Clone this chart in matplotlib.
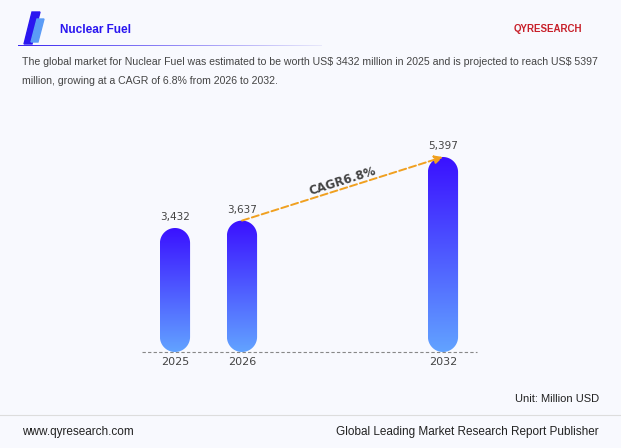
import numpy as np
import matplotlib
matplotlib.use("Agg")
import matplotlib.pyplot as plt
from matplotlib.patches import Polygon
from matplotlib.colors import LinearSegmentedColormap

years = ["2025", "2026", "2032"]
slots = [0, 1, 4]
values = [3432, 3637, 5397]
labels = ["3,432", "3,637", "5,397"]
cagr = "CAGR6.8%"

W, H = 621, 448
bg = "#f8f9fe"
fig = plt.figure(figsize=(W/100, H/100), dpi=100, facecolor=bg)

def fx(px): return px / W
def fy(py): return 1 - py / H

# header
fig.add_artist(Polygon([[fx(24), fy(44)], [fx(32), fy(44)], [fx(40), fy(12)], [fx(32), fy(12)]],
                       closed=True, transform=fig.transFigure, color="#2a16f0"))
fig.add_artist(Polygon([[fx(31), fy(42)], [fx(38), fy(42)], [fx(44), fy(19)], [fx(37), fy(19)]],
                       closed=True, transform=fig.transFigure, color="#5b9cf6"))
fig.text(fx(60), fy(30), "Nuclear Fuel", color="#2a16f0", fontsize=8.5, fontweight="bold",
         va="center", family="Liberation Sans")
grad = np.linspace(0, 1, 256).reshape(1, -1)
lax = fig.add_axes([fx(18), fy(46), fx(322) - fx(18), 1.2/H])
lax.imshow(grad, aspect="auto", cmap=LinearSegmentedColormap.from_list("l", ["#3a26f0", "#e8e8fb"]))
lax.axis("off")
fig.text(fx(22), fy(62), "The global market for Nuclear Fuel was estimated to be worth US\\$ 3432 million in 2025 and is projected to reach US\\$ 5397",
         fontsize=7.6, color="#444444", va="center", family="Liberation Sans")
fig.text(fx(22), fy(81), "million, growing at a CAGR of 6.8% from 2026 to 2032.",
         fontsize=7.6, color="#444444", va="center", family="Liberation Sans")
fig.text(fx(548), fy(29), "QYRESEARCH", color="#c8202a", fontsize=7, fontweight="bold",
         va="center", ha="center", family="Liberation Sans")

# chart
x0, x1 = 141.5, 476.5
ybase, ytop = 352, 100
ymax = 5397 * (ybase - ytop) / 195.0
ax = fig.add_axes([fx(x0), fy(ybase), fx(x1) - fx(x0), (ybase - ytop) / H])
ax.set_facecolor("none")
ax.axis("off")

cmap = LinearSegmentedColormap.from_list("b", ["#62a3ff", "#3a10ff"])
bw = 0.45
xu_per_px = 5 / (x1 - x0)
yu_per_px = ymax / (ybase - ytop)
rx = bw / 2
ry = rx / xu_per_px * yu_per_px
t = np.linspace(0, np.pi, 40)
for s, v, lab, yr in zip(slots, values, labels, years):
    top = np.column_stack([s + rx*np.cos(t), v - ry + ry*np.sin(t)])
    bot = np.column_stack([s - rx*np.cos(t), ry - ry*np.sin(t)])
    patch = Polygon(np.vstack([top, bot]), closed=True, transform=ax.transData, lw=0, fc="none")
    ax.add_patch(patch)
    im = ax.imshow(np.linspace(0, 1, 256).reshape(-1, 1), cmap=cmap, origin="lower", aspect="auto",
                   extent=[s - rx, s + rx, 0, v], zorder=2)
    im.set_clip_path(patch)
    ax.text(s, v + 6 * yu_per_px, lab, ha="center", va="bottom", fontsize=7.5, color="#444444")
    ax.text(s, -5 * yu_per_px, yr, ha="center", va="top", fontsize=8, color="#444444")
ax.set_xlim(-0.5, 4.5)
ax.set_ylim(0, ymax)
ax.axhline(0, color="#888888", lw=0.8, ls=(0, (3, 2)), clip_on=False, zorder=3)

ax.annotate("", xy=(slots[2], values[2]), xytext=(slots[1], values[1]),
            arrowprops=dict(arrowstyle="-|>", color="#f0a020", lw=1.4, ls="--", mutation_scale=12,
                            shrinkA=0, shrinkB=0), zorder=4)
ang = np.degrees(np.arctan2((values[2]-values[1]) / yu_per_px, 3 / xu_per_px))
ax.text(2.5, 4720, cagr, rotation=ang, ha="center", va="center", fontsize=8.5,
        fontweight="bold", color="#444444")

# footer
fig.text(fx(599), fy(399), "Unit: Million USD", ha="right", va="center", fontsize=8, color="#222222",
         family="Liberation Sans")
fig.add_artist(plt.Line2D([0, 1], [fy(415), fy(415)], transform=fig.transFigure, color="#dddddd", lw=0.8))
fig.text(fx(22), fy(432), "www.qyresearch.com", va="center", fontsize=8.5, color="#222222", family="Liberation Sans")
fig.text(fx(599), fy(432), "Global Leading Market Research Report Publisher", ha="right", va="center",
         fontsize=8.5, color="#222222", family="Liberation Sans")

fig.savefig("out.png", dpi=100, facecolor=bg)
